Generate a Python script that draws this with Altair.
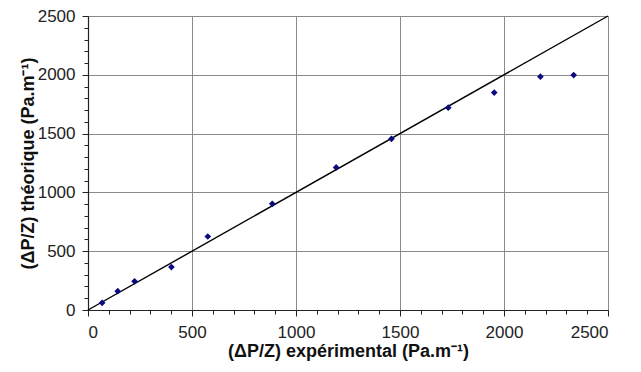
import altair as alt
import pandas as pd

x_exp = [68, 143, 224, 401, 576, 886, 1193, 1459, 1732, 1953, 2175, 2335]
y_theo = [61, 160, 244, 365, 625, 903, 1212, 1456, 1720, 1849, 1984, 1998]
line_x = [0, 2500]
line_y = [0, 2500]
ticks = list(range(0, 2501, 100))

pts = pd.DataFrame({"x": x_exp, "y": y_theo})
ln = pd.DataFrame({"x": line_x, "y": line_y})

major = "datum.value % 500 === 0"
font = "Liberation Sans"

xscale = alt.Scale(domain=[0, 2500], nice=False, zero=False)
yscale = alt.Scale(domain=[0, 2500], nice=False, zero=False)

common = dict(
    values=ticks,
    tickCount=40,
    labelExpr=f"{major} ? datum.label : ''",
    labelOverlap=False,
    labelFont=font, labelFontSize=17, labelColor="#222",
    titleFont=font, titleFontSize=18, titleFontWeight="bold", titleColor="#111",
    tickColor="#222", domainColor="#222", domainWidth=1.2,
    gridColor="#8a8a8a",
    gridOpacity={"condition": {"test": major, "value": 1}, "value": 0},
    format="d",
)

xaxis = alt.Axis(
    title="(ΔP/Z) expérimental (Pa.m⁻¹)",
    labelPadding=8,
    titlePadding=2,
    tickSize={"condition": {"test": major, "value": 6}, "value": 4},
    **common,
)
yaxis = alt.Axis(
    title="(ΔP/Z) théorique (Pa.m⁻¹)",
    labelPadding=7,
    titlePadding=0,
    tickSize={"condition": {"test": major, "value": 6}, "value": 4},
    **common,
)

line = alt.Chart(ln).mark_line(color="black", strokeWidth=1.4).encode(
    x=alt.X("x:Q", scale=xscale, axis=xaxis),
    y=alt.Y("y:Q", scale=yscale, axis=yaxis),
)
points = alt.Chart(pts).mark_point(shape="diamond", filled=True, color="#0a0a80", size=45, opacity=1).encode(
    x="x:Q", y="y:Q"
)

chart = (line + points).properties(
    width=520, height=294,
    autosize=alt.AutoSizeParams(type="none"),
    padding={"left": 80, "top": 8, "right": 25, "bottom": 54},
).configure_view(stroke=None).configure(background="white")

chart.save("out.html", embed_options={"renderer": "svg", "actions": False})
